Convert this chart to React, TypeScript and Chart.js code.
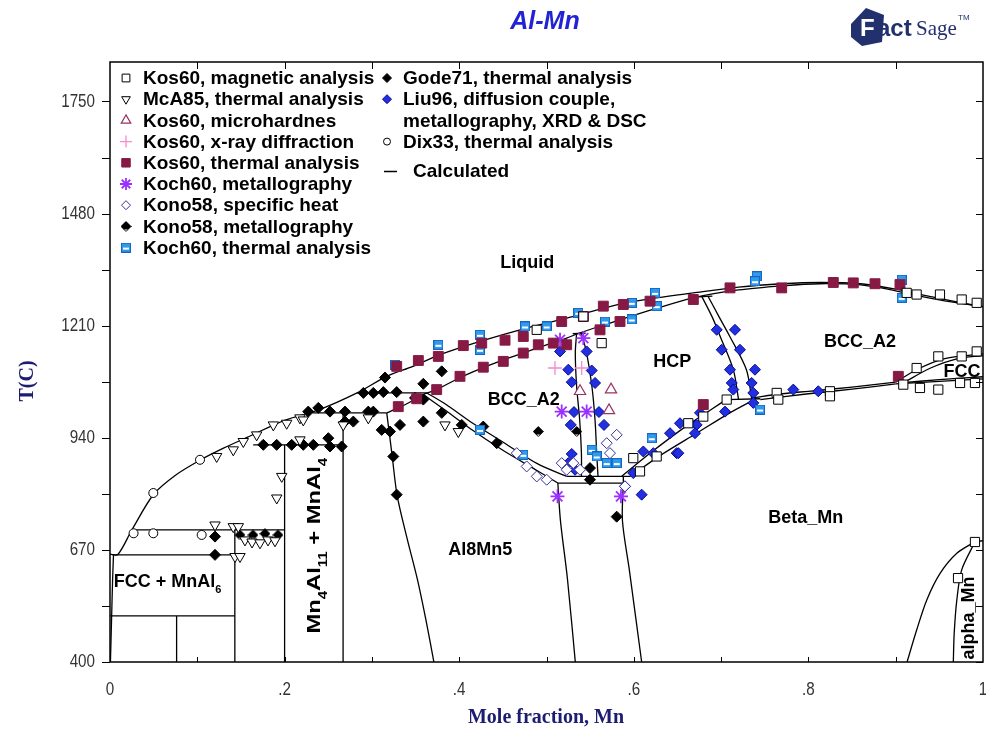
import React, { useEffect, useRef } from 'react';
import { Chart, registerables } from 'chart.js';
import { drawPoint } from 'chart.js/helpers';

Chart.register(...registerables);

// ---------- axes ----------
const xTickValues = [0, 0.2, 0.4, 0.6, 0.8, 1];
const xTickLabels = ['0', '.2', '.4', '.6', '.8', '1'];
const xMinorTicks = [0.1, 0.2, 0.3, 0.4, 0.5, 0.6, 0.7, 0.8, 0.9];
const yTickValues = [400, 670, 940, 1210, 1480, 1750];
const ySideTicks = [400, 535, 670, 805, 940, 1075, 1210, 1345, 1480, 1615, 1750];
const yMin = 400;
const yMax = 1845;

// ---------- calculated phase boundaries [x(Mn), T(C)] ----------
const liquidus = [[0, 660], [0.009, 659], [0.025, 718], [0.05, 804], [0.075, 850], [0.103, 886], [0.13, 915], [0.157, 941], [0.2, 982], [0.24, 1008], [0.283, 1048], [0.317, 1088], [0.347, 1112], [0.378, 1140], [0.424, 1172], [0.477, 1204], [0.53, 1232], [0.584, 1262], [0.62, 1275], [0.668, 1289], [0.72, 1303], [0.77, 1311], [0.813, 1314], [0.86, 1311], [0.9, 1298], [0.94, 1280], [0.97, 1267], [1, 1256]];
const solidus = [[0.317, 1000], [0.34, 1022], [0.36, 1045], [0.374, 1056], [0.4, 1084], [0.424, 1106], [0.45, 1127], [0.473, 1144], [0.5, 1164], [0.523, 1180], [0.535, 1190], [0.56, 1208], [0.584, 1224], [0.622, 1249], [0.668, 1277], [0.72, 1296], [0.77, 1306], [0.813, 1311], [0.86, 1308], [0.9, 1294], [0.95, 1272], [1, 1256]];
const fccSolvus = [[0.004, 658], [0.003, 600], [0.002, 520], [0.001, 440], [0.0005, 400]];
const iso1048 = [[0.283, 1048], [0.363, 1048]];
const iso1000 = [[0.232, 1000], [0.317, 1000]];
const iso923 = [[0.164, 923], [0.267, 923]];
const iso718 = [[0.025, 718], [0.2, 718]];
const iso658 = [[0.003, 658], [0.143, 658]];
const iso511 = [[0, 511], [0.143, 511]];
const al12Mn = [[0.0763, 511], [0.0763, 400]];
const mnAl6 = [[0.143, 718], [0.143, 400]];
const mnAl4 = [[0.2, 923], [0.2, 400]];
const mn4Al11 = [[0.267, 1000], [0.267, 400]];
const al8Mn5Left = [[0.317, 1000], [0.323, 900], [0.329, 800], [0.34, 700], [0.352, 600], [0.362, 500], [0.371, 400]];
const al8Mn5Bcc = [[0.359, 1044], [0.385, 1005], [0.412, 963], [0.45, 910], [0.49, 860], [0.513, 831]];
const bccAl8Mn5 = [[0.363, 1048], [0.385, 1020], [0.412, 980], [0.45, 930], [0.49, 877], [0.523, 847]];
const al8Mn5Right = [[0.513, 831], [0.516, 740], [0.524, 600], [0.533, 400]];
const betaLeft = [[0.588, 847], [0.588, 831], [0.587, 740], [0.595, 620], [0.609, 400]];
const iso847 = [[0.523, 847], [0.596, 847]];
const iso831 = [[0.513, 831], [0.588, 831]];
const bccHcpA = [[0.5345, 1192], [0.533, 1144], [0.5345, 1064], [0.538, 983], [0.54, 903], [0.54, 847]];
const bccHcpB = [[0.54, 1192], [0.546, 1144], [0.552, 1064], [0.5556, 983], [0.5575, 903], [0.559, 847]];
const iso1191 = [[0.53, 1191], [0.545, 1192]];
const hcpBetaA = [[0.586, 847], [0.62, 905], [0.66, 968], [0.69, 1010], [0.706, 1032]];
const hcpBetaB = [[0.596, 847], [0.63, 897], [0.672, 951], [0.71, 1000], [0.74, 1034]];
const iso1032 = [[0.706, 1032], [0.745, 1034]];
const hcpBccA = [[0.678, 1280], [0.69, 1230], [0.699, 1184], [0.714, 1104], [0.72, 1032]];
const hcpBccB = [[0.685, 1281], [0.698, 1230], [0.71, 1184], [0.729, 1104], [0.735, 1034]];
const iso1280 = [[0.668, 1279], [0.69, 1281]];
const bccBetaA = [[0.735, 1036], [0.77, 1046], [0.8, 1052], [0.85, 1062], [0.9, 1074]];
const bccBetaB = [[0.745, 1032], [0.8, 1046], [0.85, 1057], [0.9, 1070]];
const fccA = [[0.9, 1074], [0.925, 1105], [0.955, 1130], [1, 1142]];
const fccB = [[0.91, 1074], [0.94, 1108], [0.97, 1130], [1, 1138]];
const fccC = [[0.9, 1070], [0.95, 1076], [1, 1082]];
const fccD = [[0.905, 1072], [0.95, 1080], [1, 1087]];
const alphaA = [[0.913, 400], [0.924, 477], [0.9355, 549], [0.951, 614], [0.97, 662], [0.991, 690]];
const alphaB = [[0.966, 400], [0.967, 469], [0.97, 549], [0.9756, 622], [0.991, 690]];
const alphaTop = [[0.991, 690], [1, 692]];

const curvedLines = [liquidus, solidus, fccSolvus, al8Mn5Left, al8Mn5Bcc, bccAl8Mn5, al8Mn5Right, betaLeft, bccHcpA, bccHcpB, hcpBetaA, hcpBetaB, hcpBccA, hcpBccB, bccBetaA, bccBetaB, fccA, fccB, fccC, fccD, alphaA, alphaB];
const straightLines = [iso1048, iso1000, iso923, iso718, iso658, iso511, al12Mn, mnAl6, mnAl4, mn4Al11, iso847, iso831, iso1191, iso1032, iso1280, alphaTop];

// ---------- experimental data [x(Mn), T(C)] ----------
const kos60Magnetic = [[0.4888, 1200], [0.5422, 1232], [0.5632, 1168], [0.5994, 891], [0.6071, 859], [0.6262, 895], [0.6624, 975], [0.6796, 991], [0.7064, 1032], [0.7637, 1048], [0.7655, 1032], [0.8247, 1052], [0.8247, 1040], [0.9087, 1068], [0.9278, 1060], [0.9488, 1056], [0.9737, 1072], [0.9908, 1072], [0.924, 1108], [0.9488, 1136], [0.9756, 1136], [0.9928, 1148], [0.9126, 1289], [0.924, 1285], [0.9507, 1285], [0.9756, 1273], [0.9928, 1265], [0.9714, 602], [0.9908, 689]];
const mcA85 = [[0.1222, 895], [0.1412, 911], [0.1527, 931], [0.168, 947], [0.1871, 971], [0.2024, 975], [0.2176, 988], [0.2214, 983], [0.1967, 847], [0.191, 795], [0.2672, 971], [0.2959, 988], [0.3837, 971], [0.399, 955], [0.2176, 935], [0.1203, 730], [0.1412, 726], [0.147, 726], [0.1432, 654], [0.1489, 654], [0.1546, 694], [0.1627, 689], [0.1718, 687], [0.181, 694], [0.189, 692]];
const kos60Micro = [[0.5384, 1052], [0.5739, 1056], [0.5716, 1006]];
const kos60Xray = [[0.5097, 1108], [0.5403, 1108]];
const kos60Thermal = [[0.3284, 1112], [0.3532, 1126], [0.3761, 1136], [0.4047, 1162], [0.4258, 1168], [0.4525, 1175], [0.4734, 1184], [0.5174, 1220], [0.5422, 1232], [0.5651, 1257], [0.588, 1261], [0.6186, 1269], [0.6682, 1273], [0.7102, 1301], [0.7694, 1301], [0.8285, 1314], [0.8514, 1313], [0.8763, 1311], [0.9049, 1309], [0.3302, 1015], [0.3513, 1034], [0.3742, 1056], [0.4009, 1088], [0.4276, 1110], [0.4505, 1124], [0.4734, 1144], [0.4906, 1164], [0.5078, 1168], [0.5231, 1164], [0.5613, 1200], [0.5842, 1220], [0.903, 1088], [0.6796, 1020]];
const koch60Metallo = [[0.5155, 1176], [0.5422, 1180], [0.5174, 1003], [0.546, 1003], [0.5126, 799], [0.5853, 799]];
const kono58Heat = [[0.4659, 903], [0.4773, 871], [0.4888, 847], [0.5002, 839], [0.5174, 879], [0.5231, 863], [0.5307, 879], [0.569, 927], [0.5804, 947], [0.5727, 903], [0.5899, 823], [0.5384, 863]];
const kono58Metallo = [[0.4906, 955], [0.5346, 955], [0.1489, 706], [0.1638, 706], [0.1775, 709], [0.1924, 706]];
const koch60Thermal = [[0.3265, 1116], [0.3761, 1164], [0.4238, 1188], [0.4238, 1152], [0.4754, 1208], [0.5002, 1208], [0.5364, 1241], [0.567, 1220], [0.5976, 1265], [0.5976, 1225], [0.6243, 1289], [0.6262, 1257], [0.7408, 1329], [0.7388, 1317], [0.9069, 1321], [0.9069, 1277], [0.4238, 959], [0.4734, 899], [0.5518, 911], [0.5575, 895], [0.569, 879], [0.5804, 879], [0.6205, 939], [0.7446, 1008]];
const gode71 = [[0.2902, 1048], [0.3016, 1048], [0.3131, 1050], [0.3284, 1050], [0.315, 1085], [0.3494, 1036], [0.3589, 1032], [0.38, 1100], [0.3589, 1070], [0.2271, 1003], [0.2386, 1012], [0.252, 1003], [0.2692, 1003], [0.2959, 1003], [0.3016, 1003], [0.2692, 979], [0.2787, 979], [0.1756, 923], [0.1909, 923], [0.2081, 923], [0.2214, 923], [0.2329, 923], [0.2501, 939], [0.252, 919], [0.2654, 919], [0.3112, 959], [0.3207, 955], [0.3322, 971], [0.3589, 979], [0.38, 1000], [0.4029, 971], [0.4276, 967], [0.443, 927], [0.3245, 895], [0.3284, 803], [0.5498, 867], [0.5498, 839], [0.5804, 750], [0.1203, 702], [0.1203, 658]];
const liu96 = [[0.5155, 1148], [0.546, 1148], [0.525, 1104], [0.5518, 1102], [0.5289, 1074], [0.5556, 1072], [0.5315, 1002], [0.5601, 1002], [0.5278, 971], [0.5659, 971], [0.5289, 901], [0.525, 879], [0.5327, 863], [0.5994, 855], [0.6109, 907], [0.6223, 903], [0.5899, 823], [0.609, 803], [0.6415, 951], [0.6491, 903], [0.695, 1200], [0.7159, 1200], [0.7007, 1152], [0.7216, 1152], [0.7102, 1104], [0.7388, 1104], [0.7122, 1072], [0.735, 1072], [0.714, 1056], [0.7369, 1048], [0.7045, 1003], [0.7369, 1024], [0.7827, 1056], [0.8113, 1052], [0.6758, 1000], [0.672, 971], [0.6529, 975], [0.6701, 951], [0.651, 903]];
const dix33 = [[0.027, 710], [0.0496, 710], [0.105, 706], [0.0496, 807], [0.1031, 887]];

// ---------- text ----------
const regionLabels = [
  { parts: [{ t: 'Liquid' }], x: 0.478, y: 1362, rot: 0, size: 18, sx: 1 },
  { parts: [{ t: 'BCC_A2' }], x: 0.474, y: 1032, rot: 0, size: 18, sx: 1 },
  { parts: [{ t: 'HCP' }], x: 0.644, y: 1123, rot: 0, size: 18, sx: 1 },
  { parts: [{ t: 'BCC_A2' }], x: 0.859, y: 1171, rot: 0, size: 18, sx: 1 },
  { parts: [{ t: 'FCC' }], x: 0.976, y: 1099, rot: 0, size: 18, sx: 1 },
  { parts: [{ t: 'Beta_Mn' }], x: 0.797, y: 747, rot: 0, size: 18, sx: 1 },
  { parts: [{ t: 'Al8Mn5' }], x: 0.424, y: 670, rot: 0, size: 18, sx: 1 },
  { parts: [{ t: 'FCC + MnAl' }, { t: '6', sub: true }], x: 0.066, y: 593, rot: 0, size: 18, sx: 1 },
  { parts: [{ t: 'Mn' }, { t: '4', sub: true }, { t: 'Al' }, { t: '11', sub: true }, { t: ' + MnAl' }, { t: '4', sub: true }], x: 0.235, y: 680, rot: -90, size: 19, sx: 1.25 },
  { parts: [{ t: 'alpha_Mn' }], x: 0.984, y: 506, rot: -90, size: 18, sx: 1 },
];

const SANS = '"Liberation Sans", Arial, Helvetica, sans-serif';
const SERIF = '"Liberation Serif", "Times New Roman", serif';

function makeIcons() {
  const koch = document.createElement('canvas');
  koch.width = 10; koch.height = 10;
  let c = koch.getContext('2d')!;
  c.fillStyle = '#2f9bea'; c.fillRect(0, 0, 10, 10);
  c.strokeStyle = '#1466c2'; c.lineWidth = 1; c.strokeRect(0.5, 0.5, 9, 9);
  c.fillStyle = '#ffffff'; c.fillRect(2, 5, 6, 2);

  const kono = document.createElement('canvas');
  kono.width = 11; kono.height = 11;
  c = kono.getContext('2d')!;
  c.beginPath(); c.moveTo(5.5, 0.5); c.lineTo(10.5, 5.5); c.lineTo(5.5, 10.5); c.lineTo(0.5, 5.5); c.closePath();
  c.fillStyle = '#ffffff'; c.fill();
  c.beginPath(); c.moveTo(5.5, 0.5); c.lineTo(10.5, 5.5); c.lineTo(7.5, 8.5); c.lineTo(3.5, 8.5); c.lineTo(0.5, 5.5); c.closePath();
  c.fillStyle = '#000000'; c.fill();
  c.beginPath(); c.moveTo(5.5, 0.5); c.lineTo(10.5, 5.5); c.lineTo(5.5, 10.5); c.lineTo(0.5, 5.5); c.closePath();
  c.strokeStyle = '#000'; c.lineWidth = 1; c.stroke();
  return { koch, kono };
}

const pts = (a: number[][]) => a.map(([x, y]) => ({ x, y }));

function drawRich(ctx: CanvasRenderingContext2D, parts: any[], cx: number, cy: number, size: number) {
  const main = `bold ${size}px ${SANS}`;
  const sub = `bold ${Math.round(size * 0.62)}px ${SANS}`;
  let total = 0;
  const widths = parts.map((p) => { ctx.font = p.sub ? sub : main; const w = ctx.measureText(p.t).width; total += w; return w; });
  let x = cx - total / 2;
  ctx.textAlign = 'left';
  ctx.textBaseline = 'middle';
  parts.forEach((p, i) => {
    ctx.font = p.sub ? sub : main;
    ctx.fillText(p.t, x, p.sub ? cy + size * 0.45 : cy);
    x += widths[i];
  });
}

const zeroPad = (s: any) => { s.paddingLeft = 0; s.paddingRight = 0; s.paddingTop = 0; s.paddingBottom = 0; };

export default function App() {
  const ref = useRef<HTMLCanvasElement>(null);
  useEffect(() => {
    const canvas = ref.current!;
    const icons = makeIcons();

    const markerSets: any[] = [
      { label: 'Kos60, magnetic analysis', data: pts(kos60Magnetic), pointStyle: 'rect', pointRadius: 6.5, backgroundColor: '#fff', borderColor: '#000', borderWidth: 1 },
      { label: 'McA85, thermal analysis', data: pts(mcA85), pointStyle: 'triangle', rotation: 180, pointRadius: 6, backgroundColor: '#fff', borderColor: '#000', borderWidth: 1 },
      { label: 'Kos60, microhardnes', data: pts(kos60Micro), pointStyle: 'triangle', rotation: 0, pointRadius: 6.5, backgroundColor: '#fff', borderColor: '#993366', borderWidth: 1.2 },
      { label: 'Kos60, x-ray diffraction', data: pts(kos60Xray), pointStyle: 'cross', pointRadius: 7, backgroundColor: '#f28ccc', borderColor: '#f28ccc', borderWidth: 1.3 },
      { label: 'Kos60, thermal analysis', data: pts(kos60Thermal), pointStyle: 'rect', pointRadius: 7, backgroundColor: '#861a45', borderColor: '#861a45', borderWidth: 1 },
      { label: 'Koch60, metallography', data: pts(koch60Metallo), pointStyle: 'star', pointRadius: 7, backgroundColor: '#9b30ff', borderColor: '#9b30ff', borderWidth: 1.8 },
      { label: 'Kono58, specific heat', data: pts(kono58Heat), pointStyle: 'rectRot', pointRadius: 5.5, backgroundColor: '#fff', borderColor: '#333399', borderWidth: 1 },
      { label: 'Kono58, metallography', data: pts(kono58Metallo), pointStyle: icons.kono, pointRadius: 5, backgroundColor: '#000', borderColor: '#000', borderWidth: 1 },
      { label: 'Koch60, thermal analysis', data: pts(koch60Thermal), pointStyle: icons.koch, pointRadius: 5, backgroundColor: '#2f9bea', borderColor: '#1466c2', borderWidth: 1 },
      { label: 'Gode71, thermal analysis', data: pts(gode71), pointStyle: 'rectRot', pointRadius: 5.5, backgroundColor: '#000', borderColor: '#000', borderWidth: 1 },
      { label: 'Liu96, diffusion couple,', data: pts(liu96), pointStyle: 'rectRot', pointRadius: 5.5, backgroundColor: '#2030e0', borderColor: '#0a0a90', borderWidth: 1 },
      { label: 'Dix33, thermal analysis', data: pts(dix33), pointStyle: 'circle', pointRadius: 4.5, backgroundColor: '#fff', borderColor: '#000', borderWidth: 1 },
    ].map((d) => ({ ...d, type: 'scatter', showLine: false, pointRotation: d.rotation || 0, order: 1 }));

    const lineSets: any[] = [
      ...curvedLines.map((l) => ({ data: pts(l), tension: 0.3 })),
      ...straightLines.map((l) => ({ data: pts(l), tension: 0 })),
    ].map((d) => ({ ...d, type: 'scatter', label: 'Calculated', showLine: true, pointRadius: 0, borderColor: '#000', borderWidth: 1.3, backgroundColor: '#000', fill: false, order: 5 }));

    const legendCol1 = markerSets.slice(0, 9);
    const legendCol2 = markerSets.slice(9);

    const decor = {
      id: 'decor',
      afterDraw(chart: any) {
        const ctx: CanvasRenderingContext2D = chart.ctx;
        const xs = chart.scales.x;
        const ys = chart.scales.y;
        const { left, right, top, bottom } = chart.chartArea;
        ctx.save();
        ctx.strokeStyle = '#000';
        ctx.lineWidth = 1.5;
        ctx.strokeRect(left, top, right - left, bottom - top);
        ctx.lineWidth = 1;
        ctx.beginPath();
        xMinorTicks.forEach((v) => {
          const px = Math.round(xs.getPixelForValue(v)) + 0.5;
          ctx.moveTo(px, bottom); ctx.lineTo(px, bottom - 5);
          ctx.moveTo(px, top); ctx.lineTo(px, top + 7);
        });
        ySideTicks.forEach((v) => {
          const py = Math.round(ys.getPixelForValue(v)) + 0.5;
          ctx.moveTo(left, py); ctx.lineTo(left - 8, py);
          ctx.moveTo(right, py); ctx.lineTo(right - 7, py);
        });
        ctx.stroke();

        // tick labels (condensed sans)
        ctx.fillStyle = '#333';
        ctx.font = `19px ${SANS}`;
        ctx.textBaseline = 'middle';
        yTickValues.forEach((v) => {
          const py = ys.getPixelForValue(v);
          ctx.save();
          ctx.translate(95, py);
          ctx.scale(0.8, 1);
          ctx.textAlign = 'right';
          ctx.fillText(String(v), 0, 0);
          ctx.restore();
        });
        xTickValues.forEach((v, i) => {
          const px = xs.getPixelForValue(v);
          ctx.save();
          ctx.translate(px, 690);
          ctx.scale(0.8, 1);
          ctx.textAlign = 'center';
          ctx.fillText(xTickLabels[i], 0, 0);
          ctx.restore();
        });

        ctx.fillStyle = '#000';
        regionLabels.forEach((r) => {
          const px = xs.getPixelForValue(r.x);
          const py = ys.getPixelForValue(r.y);
          ctx.save();
          ctx.translate(px, py);
          ctx.rotate((r.rot * Math.PI) / 180);
          ctx.scale(r.sx, 1);
          drawRich(ctx, r.parts, 0, 0, r.size);
          ctx.restore();
        });

        const rowY = (i: number) => 78 + i * 21.2;
        const legendFont = `bold 19px ${SANS}`;
        ctx.textAlign = 'left';
        ctx.textBaseline = 'middle';
        const mark = (d: any, x: number, y: number) => {
          ctx.fillStyle = d.backgroundColor;
          ctx.strokeStyle = d.borderColor;
          ctx.lineWidth = d.borderWidth;
          drawPoint(ctx, { pointStyle: d.pointStyle, rotation: d.pointRotation, radius: Math.max(d.pointRadius - 1, 3.5), borderWidth: d.borderWidth } as any, x, y);
        };
        legendCol1.forEach((d, i) => {
          mark(d, 126, rowY(i));
          ctx.fillStyle = '#000';
          ctx.font = legendFont;
          ctx.fillText(d.label, 143, rowY(i) + 1);
        });
        const col2Rows = [0, 1, 3];
        legendCol2.forEach((d, i) => {
          mark(d, 387, rowY(col2Rows[i]));
          ctx.fillStyle = '#000';
          ctx.font = legendFont;
          ctx.fillText(d.label, 403, rowY(col2Rows[i]) + 1);
        });
        ctx.fillText('metallography, XRD & DSC', 403, rowY(2) + 1);
        ctx.strokeStyle = '#000'; ctx.lineWidth = 1.5;
        ctx.beginPath(); ctx.moveTo(384, 171.5); ctx.lineTo(397, 171.5); ctx.stroke();
        ctx.fillText('Calculated', 413, 172);

        ctx.fillStyle = '#2323d6';
        ctx.font = `italic bold 25px ${SANS}`;
        ctx.textAlign = 'center';
        ctx.fillText('Al-Mn', 545, 22);

        ctx.fillStyle = '#22306e';
        ctx.beginPath();
        ctx.moveTo(851, 24); ctx.lineTo(866, 8); ctx.lineTo(884, 15); ctx.lineTo(882, 42); ctx.lineTo(862, 46); ctx.lineTo(851, 37); ctx.closePath();
        ctx.fill();
        ctx.fillStyle = '#ffffff';
        ctx.font = `bold 24px ${SANS}`;
        ctx.textAlign = 'left';
        ctx.fillText('F', 860, 29);
        ctx.fillStyle = '#22306e';
        ctx.fillText('act', 877, 29);
        ctx.font = `21px ${SERIF}`;
        ctx.fillText('Sage', 916, 29);
        ctx.font = `8px ${SANS}`;
        ctx.fillText('TM', 958, 18);

        ctx.fillStyle = '#1c1c70';
        ctx.font = `bold 20px ${SERIF}`;
        ctx.textAlign = 'center';
        ctx.fillText('Mole fraction, Mn', 546, 718);
        ctx.save();
        ctx.translate(28, 381);
        ctx.rotate(-Math.PI / 2);
        ctx.fillText('T(C)', 0, 0);
        ctx.restore();

        ctx.restore();
      },
    };

    const chart = new Chart(canvas, {
      type: 'scatter',
      data: { datasets: [...markerSets, ...lineSets] },
      options: {
        responsive: false,
        animation: false,
        devicePixelRatio: 1,
        layout: { autoPadding: false, padding: { left: 0, top: 62, right: 3, bottom: 0 } },
        plugins: { legend: { display: false }, tooltip: { enabled: false }, title: { display: false } },
        events: [],
        scales: {
          x: {
            type: 'linear', min: 0, max: 1,
            afterBuildTicks: (s: any) => { s.ticks = xTickValues.map((v) => ({ value: v })); },
            afterFit: (s: any) => { s.height = 76; zeroPad(s); },
            grid: { display: false, drawTicks: false },
            border: { display: false },
            ticks: { display: false },
          },
          y: {
            type: 'linear', min: yMin, max: yMax,
            afterBuildTicks: (s: any) => { s.ticks = yTickValues.map((v) => ({ value: v })); },
            afterFit: (s: any) => { s.width = 110; zeroPad(s); },
            grid: { display: false, drawTicks: false },
            border: { display: false },
            ticks: { display: false },
          },
        },
      },
      plugins: [decor],
    } as any);
    return () => chart.destroy();
  }, []);

  return (
    <div style={{ position: 'absolute', left: 0, top: 0, width: 986, height: 738, background: '#fff' }}>
      <canvas ref={ref} width={986} height={738} style={{ display: 'block' }} />
    </div>
  );
}
